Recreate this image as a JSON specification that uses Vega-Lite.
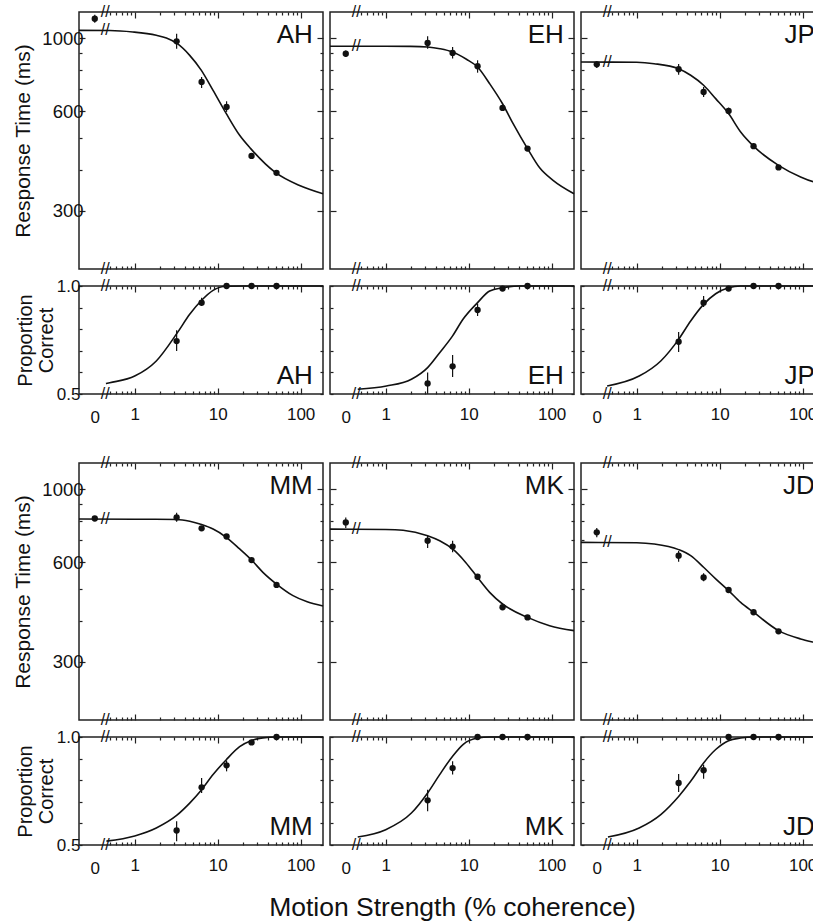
{
"$schema":"https://vega.github.io/schema/vega-lite/v6.json",
"padding":{"left":12,"top":3,"right":0,"bottom":0},
"background":"white",
"datasets":{"d":[
{"s":"AH","m":"r","k":"f","c":0.213,"v":1056},{"s":"AH","m":"r","k":"f","c":0.5,"v":1055},{"s":"AH","m":"r","k":"f","c":0.95,"v":1044},{"s":"AH","m":"r","k":"f","c":1.82,"v":1020},{"s":"AH","m":"r","k":"f","c":2.41,"v":1001},{"s":"AH","m":"r","k":"f","c":3.27,"v":962},{"s":"AH","m":"r","k":"f","c":4.6,"v":887},{"s":"AH","m":"r","k":"f","c":6.36,"v":799},{"s":"AH","m":"r","k":"f","c":8.8,"v":695},{"s":"AH","m":"r","k":"f","c":12.7,"v":591},{"s":"AH","m":"r","k":"f","c":18.4,"v":508},{"s":"AH","m":"r","k":"f","c":25,"v":463},{"s":"AH","m":"r","k":"f","c":49,"v":393},{"s":"AH","m":"r","k":"f","c":97,"v":358},{"s":"AH","m":"r","k":"f","c":186,"v":338},
{"s":"EH","m":"r","k":"f","c":0.213,"v":945},{"s":"EH","m":"r","k":"f","c":1,"v":945},{"s":"EH","m":"r","k":"f","c":2,"v":944},{"s":"EH","m":"r","k":"f","c":3.2,"v":940},{"s":"EH","m":"r","k":"f","c":4.5,"v":929},{"s":"EH","m":"r","k":"f","c":6.4,"v":908},{"s":"EH","m":"r","k":"f","c":9.4,"v":863},{"s":"EH","m":"r","k":"f","c":12.8,"v":818},{"s":"EH","m":"r","k":"f","c":17.9,"v":728},{"s":"EH","m":"r","k":"f","c":25.6,"v":633},{"s":"EH","m":"r","k":"f","c":34.2,"v":552},{"s":"EH","m":"r","k":"f","c":51.2,"v":463},{"s":"EH","m":"r","k":"f","c":71.7,"v":405},{"s":"EH","m":"r","k":"f","c":104,"v":371},{"s":"EH","m":"r","k":"f","c":186,"v":338},
{"s":"JP","m":"r","k":"f","c":0.213,"v":847},{"s":"JP","m":"r","k":"f","c":1,"v":845},{"s":"JP","m":"r","k":"f","c":1.62,"v":837},{"s":"JP","m":"r","k":"f","c":3.2,"v":808},{"s":"JP","m":"r","k":"f","c":4.47,"v":772},{"s":"JP","m":"r","k":"f","c":6.4,"v":720},{"s":"JP","m":"r","k":"f","c":8.95,"v":656},{"s":"JP","m":"r","k":"f","c":12.8,"v":591},{"s":"JP","m":"r","k":"f","c":17.9,"v":520},{"s":"JP","m":"r","k":"f","c":25.6,"v":471},{"s":"JP","m":"r","k":"f","c":51.2,"v":412},{"s":"JP","m":"r","k":"f","c":94.5,"v":380},{"s":"JP","m":"r","k":"f","c":136,"v":367},{"s":"JP","m":"r","k":"f","c":186,"v":360},
{"s":"MM","m":"r","k":"f","c":0.213,"v":812},{"s":"MM","m":"r","k":"f","c":1,"v":811},{"s":"MM","m":"r","k":"f","c":3.2,"v":809},{"s":"MM","m":"r","k":"f","c":4.6,"v":799},{"s":"MM","m":"r","k":"f","c":6.4,"v":781},{"s":"MM","m":"r","k":"f","c":8.8,"v":757},{"s":"MM","m":"r","k":"f","c":12.7,"v":715},{"s":"MM","m":"r","k":"f","c":18.4,"v":659},{"s":"MM","m":"r","k":"f","c":25.6,"v":610},{"s":"MM","m":"r","k":"f","c":35.1,"v":560},{"s":"MM","m":"r","k":"f","c":51.2,"v":516},{"s":"MM","m":"r","k":"f","c":80.9,"v":476},{"s":"MM","m":"r","k":"f","c":120,"v":456},{"s":"MM","m":"r","k":"f","c":186,"v":443},
{"s":"MK","m":"r","k":"f","c":0.213,"v":757},{"s":"MK","m":"r","k":"f","c":1,"v":755},{"s":"MK","m":"r","k":"f","c":1.62,"v":751},{"s":"MK","m":"r","k":"f","c":3.2,"v":723},{"s":"MK","m":"r","k":"f","c":4.47,"v":698},{"s":"MK","m":"r","k":"f","c":6.4,"v":659},{"s":"MK","m":"r","k":"f","c":9.2,"v":600},{"s":"MK","m":"r","k":"f","c":12.8,"v":540},{"s":"MK","m":"r","k":"f","c":17.9,"v":487},{"s":"MK","m":"r","k":"f","c":25.6,"v":449},{"s":"MK","m":"r","k":"f","c":51.2,"v":409},{"s":"MK","m":"r","k":"f","c":94.5,"v":386},{"s":"MK","m":"r","k":"f","c":186,"v":373},
{"s":"JD","m":"r","k":"f","c":0.213,"v":690},{"s":"JD","m":"r","k":"f","c":1,"v":688},{"s":"JD","m":"r","k":"f","c":1.62,"v":682},{"s":"JD","m":"r","k":"f","c":3.2,"v":656},{"s":"JD","m":"r","k":"f","c":4.47,"v":629},{"s":"JD","m":"r","k":"f","c":6.4,"v":580},{"s":"JD","m":"r","k":"f","c":8.95,"v":535},{"s":"JD","m":"r","k":"f","c":12.8,"v":493},{"s":"JD","m":"r","k":"f","c":17.9,"v":454},{"s":"JD","m":"r","k":"f","c":25.6,"v":424},{"s":"JD","m":"r","k":"f","c":51.2,"v":373},{"s":"JD","m":"r","k":"f","c":94.5,"v":352},{"s":"JD","m":"r","k":"f","c":136,"v":344},{"s":"JD","m":"r","k":"f","c":186,"v":338},
{"s":"AH","m":"p","k":"f","c":0.45,"v":0.548},{"s":"AH","m":"p","k":"f","c":0.5,"v":0.552},{"s":"AH","m":"p","k":"f","c":1,"v":0.583},{"s":"AH","m":"p","k":"f","c":1.82,"v":0.653},{"s":"AH","m":"p","k":"f","c":3.27,"v":0.784},{"s":"AH","m":"p","k":"f","c":4.6,"v":0.869},{"s":"AH","m":"p","k":"f","c":6.4,"v":0.934},{"s":"AH","m":"p","k":"f","c":8.8,"v":0.98},{"s":"AH","m":"p","k":"f","c":12.7,"v":0.999},{"s":"AH","m":"p","k":"f","c":20,"v":1},{"s":"AH","m":"p","k":"f","c":186,"v":1},
{"s":"EH","m":"p","k":"f","c":0.46,"v":0.522},{"s":"EH","m":"p","k":"f","c":1.02,"v":0.537},{"s":"EH","m":"p","k":"f","c":2.04,"v":0.568},{"s":"EH","m":"p","k":"f","c":3.2,"v":0.622},{"s":"EH","m":"p","k":"f","c":4.47,"v":0.691},{"s":"EH","m":"p","k":"f","c":6.4,"v":0.769},{"s":"EH","m":"p","k":"f","c":8.54,"v":0.846},{"s":"EH","m":"p","k":"f","c":12.8,"v":0.923},{"s":"EH","m":"p","k":"f","c":17.9,"v":0.977},{"s":"EH","m":"p","k":"f","c":25.6,"v":0.992},{"s":"EH","m":"p","k":"f","c":41,"v":1},{"s":"EH","m":"p","k":"f","c":186,"v":1},
{"s":"JP","m":"p","k":"f","c":0.44,"v":0.537},{"s":"JP","m":"p","k":"f","c":1.07,"v":0.583},{"s":"JP","m":"p","k":"f","c":1.95,"v":0.653},{"s":"JP","m":"p","k":"f","c":3.2,"v":0.753},{"s":"JP","m":"p","k":"f","c":4.47,"v":0.838},{"s":"JP","m":"p","k":"f","c":6.4,"v":0.915},{"s":"JP","m":"p","k":"f","c":8.95,"v":0.964},{"s":"JP","m":"p","k":"f","c":12.8,"v":0.992},{"s":"JP","m":"p","k":"f","c":17.9,"v":1},{"s":"JP","m":"p","k":"f","c":186,"v":1},
{"s":"MM","m":"p","k":"f","c":0.456,"v":0.518},{"s":"MM","m":"p","k":"f","c":1,"v":0.542},{"s":"MM","m":"p","k":"f","c":1.82,"v":0.579},{"s":"MM","m":"p","k":"f","c":3.2,"v":0.637},{"s":"MM","m":"p","k":"f","c":4.6,"v":0.694},{"s":"MM","m":"p","k":"f","c":6.4,"v":0.756},{"s":"MM","m":"p","k":"f","c":8.8,"v":0.826},{"s":"MM","m":"p","k":"f","c":12.7,"v":0.895},{"s":"MM","m":"p","k":"f","c":18.4,"v":0.955},{"s":"MM","m":"p","k":"f","c":25.6,"v":0.984},{"s":"MM","m":"p","k":"f","c":35,"v":0.996},{"s":"MM","m":"p","k":"f","c":51,"v":1},{"s":"MM","m":"p","k":"f","c":186,"v":1},
{"s":"MK","m":"p","k":"f","c":0.46,"v":0.537},{"s":"MK","m":"p","k":"f","c":1,"v":0.571},{"s":"MK","m":"p","k":"f","c":2.04,"v":0.648},{"s":"MK","m":"p","k":"f","c":3.2,"v":0.741},{"s":"MK","m":"p","k":"f","c":4.47,"v":0.826},{"s":"MK","m":"p","k":"f","c":6.4,"v":0.911},{"s":"MK","m":"p","k":"f","c":8.54,"v":0.965},{"s":"MK","m":"p","k":"f","c":12.8,"v":0.995},{"s":"MK","m":"p","k":"f","c":18,"v":1},{"s":"MK","m":"p","k":"f","c":186,"v":1},
{"s":"JD","m":"p","k":"f","c":0.45,"v":0.537},{"s":"JD","m":"p","k":"f","c":1.07,"v":0.579},{"s":"JD","m":"p","k":"f","c":1.95,"v":0.641},{"s":"JD","m":"p","k":"f","c":3.2,"v":0.725},{"s":"JD","m":"p","k":"f","c":4.47,"v":0.795},{"s":"JD","m":"p","k":"f","c":6.4,"v":0.88},{"s":"JD","m":"p","k":"f","c":8.95,"v":0.942},{"s":"JD","m":"p","k":"f","c":12.8,"v":0.983},{"s":"JD","m":"p","k":"f","c":17.9,"v":0.995},{"s":"JD","m":"p","k":"f","c":25,"v":1},{"s":"JD","m":"p","k":"f","c":186,"v":1},
{"s":"AH","m":"r","k":"o","c":0,"v":1145,"lo":1114,"hi":1178},{"s":"AH","m":"r","k":"o","c":3.2,"v":978,"lo":929,"hi":1031},{"s":"AH","m":"r","k":"o","c":6.4,"v":737,"lo":706,"hi":763},{"s":"AH","m":"r","k":"o","c":12.8,"v":619,"lo":598,"hi":644},{"s":"AH","m":"r","k":"o","c":25.6,"v":440,"lo":432,"hi":448},{"s":"AH","m":"r","k":"o","c":51.2,"v":391,"lo":385,"hi":397},
{"s":"EH","m":"r","k":"o","c":0,"v":897,"lo":877,"hi":918},{"s":"EH","m":"r","k":"o","c":3.2,"v":967,"lo":929,"hi":1013},{"s":"EH","m":"r","k":"o","c":6.4,"v":902,"lo":867,"hi":940},{"s":"EH","m":"r","k":"o","c":12.8,"v":822,"lo":786,"hi":857},{"s":"EH","m":"r","k":"o","c":25.6,"v":615,"lo":603,"hi":627},{"s":"EH","m":"r","k":"o","c":51.2,"v":463,"lo":455,"hi":471},
{"s":"JP","m":"r","k":"o","c":0,"v":833,"lo":812,"hi":851},{"s":"JP","m":"r","k":"o","c":3.2,"v":805,"lo":775,"hi":835},{"s":"JP","m":"r","k":"o","c":6.4,"v":687,"lo":664,"hi":711},{"s":"JP","m":"r","k":"o","c":12.8,"v":602,"lo":588,"hi":616},{"s":"JP","m":"r","k":"o","c":25.6,"v":471,"lo":463,"hi":479},{"s":"JP","m":"r","k":"o","c":51.2,"v":406,"lo":400,"hi":412},
{"s":"MM","m":"r","k":"o","c":0,"v":815,"lo":803,"hi":827},{"s":"MM","m":"r","k":"o","c":3.2,"v":821,"lo":797,"hi":848},{"s":"MM","m":"r","k":"o","c":6.4,"v":761,"lo":748,"hi":774},{"s":"MM","m":"r","k":"o","c":12.8,"v":719,"lo":708,"hi":730},{"s":"MM","m":"r","k":"o","c":25.6,"v":610,"lo":601,"hi":619},{"s":"MM","m":"r","k":"o","c":51.2,"v":513,"lo":506,"hi":520},
{"s":"MK","m":"r","k":"o","c":0,"v":793,"lo":763,"hi":821},{"s":"MK","m":"r","k":"o","c":3.2,"v":698,"lo":664,"hi":723},{"s":"MK","m":"r","k":"o","c":6.4,"v":670,"lo":644,"hi":698},{"s":"MK","m":"r","k":"o","c":12.8,"v":543,"lo":533,"hi":553},{"s":"MK","m":"r","k":"o","c":25.6,"v":439,"lo":433,"hi":445},{"s":"MK","m":"r","k":"o","c":51.2,"v":409,"lo":403,"hi":415},
{"s":"JD","m":"r","k":"o","c":0,"v":740,"lo":715,"hi":763},{"s":"JD","m":"r","k":"o","c":3.2,"v":629,"lo":603,"hi":650},{"s":"JD","m":"r","k":"o","c":6.4,"v":540,"lo":526,"hi":556},{"s":"JD","m":"r","k":"o","c":12.8,"v":495,"lo":487,"hi":503},{"s":"JD","m":"r","k":"o","c":25.6,"v":424,"lo":418,"hi":430},{"s":"JD","m":"r","k":"o","c":51.2,"v":371,"lo":366,"hi":376},
{"s":"AH","m":"p","k":"o","c":3.2,"v":0.745,"lo":0.699,"hi":0.795},{"s":"AH","m":"p","k":"o","c":6.4,"v":0.923,"lo":0.907,"hi":0.946},{"s":"AH","m":"p","k":"o","c":12.8,"v":1},{"s":"AH","m":"p","k":"o","c":25.6,"v":1},{"s":"AH","m":"p","k":"o","c":51.2,"v":1},
{"s":"EH","m":"p","k":"o","c":3.2,"v":0.549,"lo":0.501,"hi":0.599},{"s":"EH","m":"p","k":"o","c":6.4,"v":0.628,"lo":0.579,"hi":0.681},{"s":"EH","m":"p","k":"o","c":12.8,"v":0.889,"lo":0.861,"hi":0.918},{"s":"EH","m":"p","k":"o","c":25.6,"v":0.988},{"s":"EH","m":"p","k":"o","c":51.2,"v":1},
{"s":"JP","m":"p","k":"o","c":3.2,"v":0.742,"lo":0.694,"hi":0.787},{"s":"JP","m":"p","k":"o","c":6.4,"v":0.923,"lo":0.903,"hi":0.954},{"s":"JP","m":"p","k":"o","c":12.8,"v":0.988},{"s":"JP","m":"p","k":"o","c":25.6,"v":1},{"s":"JP","m":"p","k":"o","c":51.2,"v":1},
{"s":"MM","m":"p","k":"o","c":3.2,"v":0.567,"lo":0.517,"hi":0.61},{"s":"MM","m":"p","k":"o","c":6.4,"v":0.767,"lo":0.741,"hi":0.81},{"s":"MM","m":"p","k":"o","c":12.8,"v":0.869,"lo":0.841,"hi":0.891},{"s":"MM","m":"p","k":"o","c":25.6,"v":0.975},{"s":"MM","m":"p","k":"o","c":51.2,"v":1},
{"s":"MK","m":"p","k":"o","c":3.2,"v":0.707,"lo":0.656,"hi":0.756},{"s":"MK","m":"p","k":"o","c":6.4,"v":0.856,"lo":0.826,"hi":0.888},{"s":"MK","m":"p","k":"o","c":12.8,"v":1},{"s":"MK","m":"p","k":"o","c":25.6,"v":1},{"s":"MK","m":"p","k":"o","c":51.2,"v":1},
{"s":"JD","m":"p","k":"o","c":3.2,"v":0.787,"lo":0.745,"hi":0.829},{"s":"JD","m":"p","k":"o","c":6.4,"v":0.846,"lo":0.807,"hi":0.872},{"s":"JD","m":"p","k":"o","c":12.8,"v":1},{"s":"JD","m":"p","k":"o","c":25.6,"v":1},{"s":"JD","m":"p","k":"o","c":51.2,"v":1}
]},
"data":{"name":"d"},
"transform":[{"calculate":"datum.c===0?0.33:datum.c","as":"x"}],
"title":{"text":"Motion Strength (% coherence)","orient":"bottom","anchor":"middle","dx":32,"offset":18,"fontSize":26.5,"fontWeight":"normal","font":"Liberation Sans","color":"#111"},
"spacing":28,
"vconcat":[
{"columns":3,"spacing":{"row":-2,"column":-1},"align":"each","concat":[
{"width":244,"height":257,"transform":[{"filter":"datum.s==='AH'&&datum.m==='r'"}],"layer":[
{"transform":[{"filter":"datum.k==='f'"}],"mark":{"type":"line","interpolate":"monotone","color":"#111","strokeWidth":1.6},"encoding":{"x":{"field":"x","type":"quantitative","scale":{"type":"log","domain":[0.213,186],"nice":false},"axis":{"orient":"bottom","values":[0.33,0.5,0.6,0.7,0.8,0.9,1,2,3,4,5,6,7,8,9,10,20,30,40,50,60,70,80,90,100],"labels":false,"title":null,"tickSize":{"condition":{"test":"datum.value===1||datum.value===10||datum.value===100","value":-6},"value":-3},"tickOpacity":{"condition":{"test":"datum.value<0.4","value":0},"value":1}}},"y":{"field":"v","type":"quantitative","scale":{"type":"log","domain":[200,1200],"nice":false},"axis":{"orient":"left","values":[300,400,500,600,700,800,900,1000],"tickSize":{"condition":{"test":"datum.value===300||datum.value===600||datum.value===1000","value":-6},"value":-3},"labelPadding":2,"labelFontSize":18.5,"labelExpr":"(datum.value===300||datum.value===600||datum.value===1000)?format(datum.value,'d'):''","title":"Response Time (ms)","titleFontSize":21,"titlePadding":8}}}},
{"transform":[{"filter":"datum.k==='o'&&isValid(datum.lo)"}],"mark":{"type":"rule","color":"#111","strokeWidth":1.2},"encoding":{"x":{"field":"x","type":"quantitative","axis":null},"y":{"field":"lo","type":"quantitative","axis":null},"y2":{"field":"hi"}}},
{"transform":[{"filter":"datum.k==='o'"}],"mark":{"type":"point","filled":true,"size":40,"color":"#111","opacity":1},"encoding":{"x":{"field":"x","type":"quantitative","axis":{"orient":"top","values":[0.33,0.5,0.6,0.7,0.8,0.9,1,2,3,4,5,6,7,8,9,10,20,30,40,50,60,70,80,90,100],"labels":false,"title":null,"tickSize":{"condition":{"test":"datum.value===1||datum.value===10||datum.value===100","value":-6},"value":-3},"tickOpacity":{"condition":{"test":"datum.value<0.4","value":0},"value":1}}},"y":{"field":"v","type":"quantitative","axis":{"orient":"right","values":[300,400,500,600,700,800,900,1000],"labels":false,"title":null,"tickSize":{"condition":{"test":"datum.value===300||datum.value===600||datum.value===1000","value":-6},"value":-3}}}}},
{"transform":[{"filter":"datum.k==='f'&&datum.c<0.3"}],"mark":{"type":"text","text":"//","fontSize":16},"encoding":{"x":{"datum":0.44,"axis":null},"y":{"field":"v","type":"quantitative","axis":null}}},
{"transform":[{"filter":"datum.k==='f'&&datum.c<0.3"}],"mark":{"type":"text","text":"//","fontSize":16},"encoding":{"x":{"datum":0.44,"axis":null},"y":{"datum":1200,"axis":null}}},
{"transform":[{"filter":"datum.k==='f'&&datum.c<0.3"}],"mark":{"type":"text","text":"//","fontSize":16},"encoding":{"x":{"datum":0.44,"axis":null},"y":{"datum":200,"axis":null}}},
{"transform":[{"filter":"datum.k==='f'&&datum.c<0.3"}],"mark":{"type":"text","text":"AH","fontSize":26,"align":"right","baseline":"alphabetic"},"encoding":{"x":{"datum":140,"axis":null},"y":{"datum":968,"axis":null}}}
],"resolve":{"axis":{"x":"independent","y":"independent"}}},
{"width":244,"height":257,"transform":[{"filter":"datum.s==='EH'&&datum.m==='r'"}],"layer":[
{"transform":[{"filter":"datum.k==='f'"}],"mark":{"type":"line","interpolate":"monotone","color":"#111","strokeWidth":1.6},"encoding":{"x":{"field":"x","type":"quantitative","scale":{"type":"log","domain":[0.213,186],"nice":false},"axis":{"orient":"bottom","values":[0.33,0.5,0.6,0.7,0.8,0.9,1,2,3,4,5,6,7,8,9,10,20,30,40,50,60,70,80,90,100],"labels":false,"title":null,"tickSize":{"condition":{"test":"datum.value===1||datum.value===10||datum.value===100","value":-6},"value":-3},"tickOpacity":{"condition":{"test":"datum.value<0.4","value":0},"value":1}}},"y":{"field":"v","type":"quantitative","scale":{"type":"log","domain":[200,1200],"nice":false},"axis":{"orient":"left","values":[300,400,500,600,700,800,900,1000],"tickSize":{"condition":{"test":"datum.value===300||datum.value===600||datum.value===1000","value":-6},"value":-3},"labels":false,"title":null}}}},
{"transform":[{"filter":"datum.k==='o'&&isValid(datum.lo)"}],"mark":{"type":"rule","color":"#111","strokeWidth":1.2},"encoding":{"x":{"field":"x","type":"quantitative","axis":null},"y":{"field":"lo","type":"quantitative","axis":null},"y2":{"field":"hi"}}},
{"transform":[{"filter":"datum.k==='o'"}],"mark":{"type":"point","filled":true,"size":40,"color":"#111","opacity":1},"encoding":{"x":{"field":"x","type":"quantitative","axis":{"orient":"top","values":[0.33,0.5,0.6,0.7,0.8,0.9,1,2,3,4,5,6,7,8,9,10,20,30,40,50,60,70,80,90,100],"labels":false,"title":null,"tickSize":{"condition":{"test":"datum.value===1||datum.value===10||datum.value===100","value":-6},"value":-3},"tickOpacity":{"condition":{"test":"datum.value<0.4","value":0},"value":1}}},"y":{"field":"v","type":"quantitative","axis":{"orient":"right","values":[300,400,500,600,700,800,900,1000],"labels":false,"title":null,"tickSize":{"condition":{"test":"datum.value===300||datum.value===600||datum.value===1000","value":-6},"value":-3}}}}},
{"transform":[{"filter":"datum.k==='f'&&datum.c<0.3"}],"mark":{"type":"text","text":"//","fontSize":16},"encoding":{"x":{"datum":0.44,"axis":null},"y":{"field":"v","type":"quantitative","axis":null}}},
{"transform":[{"filter":"datum.k==='f'&&datum.c<0.3"}],"mark":{"type":"text","text":"//","fontSize":16},"encoding":{"x":{"datum":0.44,"axis":null},"y":{"datum":1200,"axis":null}}},
{"transform":[{"filter":"datum.k==='f'&&datum.c<0.3"}],"mark":{"type":"text","text":"//","fontSize":16},"encoding":{"x":{"datum":0.44,"axis":null},"y":{"datum":200,"axis":null}}},
{"transform":[{"filter":"datum.k==='f'&&datum.c<0.3"}],"mark":{"type":"text","text":"EH","fontSize":26,"align":"right","baseline":"alphabetic"},"encoding":{"x":{"datum":140,"axis":null},"y":{"datum":968,"axis":null}}}
],"resolve":{"axis":{"x":"independent","y":"independent"}}},
{"width":244,"height":257,"transform":[{"filter":"datum.s==='JP'&&datum.m==='r'"}],"layer":[
{"transform":[{"filter":"datum.k==='f'"}],"mark":{"type":"line","interpolate":"monotone","color":"#111","strokeWidth":1.6},"encoding":{"x":{"field":"x","type":"quantitative","scale":{"type":"log","domain":[0.213,186],"nice":false},"axis":{"orient":"bottom","values":[0.33,0.5,0.6,0.7,0.8,0.9,1,2,3,4,5,6,7,8,9,10,20,30,40,50,60,70,80,90,100],"labels":false,"title":null,"tickSize":{"condition":{"test":"datum.value===1||datum.value===10||datum.value===100","value":-6},"value":-3},"tickOpacity":{"condition":{"test":"datum.value<0.4","value":0},"value":1}}},"y":{"field":"v","type":"quantitative","scale":{"type":"log","domain":[200,1200],"nice":false},"axis":{"orient":"left","values":[300,400,500,600,700,800,900,1000],"tickSize":{"condition":{"test":"datum.value===300||datum.value===600||datum.value===1000","value":-6},"value":-3},"labels":false,"title":null}}}},
{"transform":[{"filter":"datum.k==='o'&&isValid(datum.lo)"}],"mark":{"type":"rule","color":"#111","strokeWidth":1.2},"encoding":{"x":{"field":"x","type":"quantitative","axis":null},"y":{"field":"lo","type":"quantitative","axis":null},"y2":{"field":"hi"}}},
{"transform":[{"filter":"datum.k==='o'"}],"mark":{"type":"point","filled":true,"size":40,"color":"#111","opacity":1},"encoding":{"x":{"field":"x","type":"quantitative","axis":{"orient":"top","values":[0.33,0.5,0.6,0.7,0.8,0.9,1,2,3,4,5,6,7,8,9,10,20,30,40,50,60,70,80,90,100],"labels":false,"title":null,"tickSize":{"condition":{"test":"datum.value===1||datum.value===10||datum.value===100","value":-6},"value":-3},"tickOpacity":{"condition":{"test":"datum.value<0.4","value":0},"value":1}}},"y":{"field":"v","type":"quantitative","axis":{"orient":"right","values":[300,400,500,600,700,800,900,1000],"labels":false,"title":null,"tickSize":{"condition":{"test":"datum.value===300||datum.value===600||datum.value===1000","value":-6},"value":-3}}}}},
{"transform":[{"filter":"datum.k==='f'&&datum.c<0.3"}],"mark":{"type":"text","text":"//","fontSize":16},"encoding":{"x":{"datum":0.44,"axis":null},"y":{"field":"v","type":"quantitative","axis":null}}},
{"transform":[{"filter":"datum.k==='f'&&datum.c<0.3"}],"mark":{"type":"text","text":"//","fontSize":16},"encoding":{"x":{"datum":0.44,"axis":null},"y":{"datum":1200,"axis":null}}},
{"transform":[{"filter":"datum.k==='f'&&datum.c<0.3"}],"mark":{"type":"text","text":"//","fontSize":16},"encoding":{"x":{"datum":0.44,"axis":null},"y":{"datum":200,"axis":null}}},
{"transform":[{"filter":"datum.k==='f'&&datum.c<0.3"}],"mark":{"type":"text","text":"JP","fontSize":26,"align":"right","baseline":"alphabetic"},"encoding":{"x":{"datum":140,"axis":null},"y":{"datum":968,"axis":null}}}
],"resolve":{"axis":{"x":"independent","y":"independent"}}},
{"width":244,"height":108,"transform":[{"filter":"datum.s==='AH'&&datum.m==='p'"}],"layer":[
{"transform":[{"filter":"datum.k==='f'"}],"mark":{"type":"line","interpolate":"monotone","color":"#111","strokeWidth":1.6},"encoding":{"x":{"field":"x","type":"quantitative","scale":{"type":"log","domain":[0.213,186],"nice":false},"axis":{"orient":"bottom","values":[0.33,0.5,0.6,0.7,0.8,0.9,1,2,3,4,5,6,7,8,9,10,20,30,40,50,60,70,80,90,100],"title":null,"labelPadding":18,"labelExpr":"datum.value<0.4?'0':(datum.value===1||datum.value===10||datum.value===100)?format(datum.value,'d'):''","tickSize":{"condition":{"test":"datum.value===1||datum.value===10||datum.value===100","value":-6},"value":-3},"tickOpacity":{"condition":{"test":"datum.value<0.4","value":0},"value":1}}},"y":{"field":"v","type":"quantitative","scale":{"type":"linear","domain":[0.5,1],"nice":false,"zero":false},"axis":{"orient":"left","values":[0.5,0.6,0.7,0.8,0.9,1],"tickSize":-3,"labelPadding":2,"labelFontSize":17,"labelExpr":"(datum.value===0.5||datum.value===1)?format(datum.value,'.1f'):''","title":["Proportion","Correct"],"titleLineHeight":21,"titlePadding":0}}}},
{"transform":[{"filter":"datum.k==='o'&&isValid(datum.lo)"}],"mark":{"type":"rule","color":"#111","strokeWidth":1.2},"encoding":{"x":{"field":"x","type":"quantitative","axis":null},"y":{"field":"lo","type":"quantitative","axis":null},"y2":{"field":"hi"}}},
{"transform":[{"filter":"datum.k==='o'"}],"mark":{"type":"point","filled":true,"size":40,"color":"#111","opacity":1},"encoding":{"x":{"field":"x","type":"quantitative","axis":{"orient":"top","values":[0.33,0.5,0.6,0.7,0.8,0.9,1,2,3,4,5,6,7,8,9,10,20,30,40,50,60,70,80,90,100],"labels":false,"title":null,"tickSize":{"condition":{"test":"datum.value===1||datum.value===10||datum.value===100","value":-6},"value":-3},"tickOpacity":{"condition":{"test":"datum.value<0.4","value":0},"value":1}}},"y":{"field":"v","type":"quantitative","axis":{"orient":"right","values":[0.5,0.6,0.7,0.8,0.9,1],"labels":false,"title":null,"tickSize":-3}}}},
{"transform":[{"filter":"datum.k==='o'&&datum.c===51.2"}],"mark":{"type":"text","text":"//","fontSize":16},"encoding":{"x":{"datum":0.44,"axis":null},"y":{"datum":1,"axis":null}}},
{"transform":[{"filter":"datum.k==='o'&&datum.c===51.2"}],"mark":{"type":"text","text":"//","fontSize":16},"encoding":{"x":{"datum":0.44,"axis":null},"y":{"datum":0.5,"axis":null}}},
{"transform":[{"filter":"datum.k==='o'&&datum.c===51.2"}],"mark":{"type":"text","text":"AH","fontSize":26,"align":"right","baseline":"alphabetic"},"encoding":{"x":{"datum":140,"axis":null},"y":{"datum":0.546,"axis":null}}}
],"resolve":{"axis":{"x":"independent","y":"independent"}}},
{"width":244,"height":108,"transform":[{"filter":"datum.s==='EH'&&datum.m==='p'"}],"layer":[
{"transform":[{"filter":"datum.k==='f'"}],"mark":{"type":"line","interpolate":"monotone","color":"#111","strokeWidth":1.6},"encoding":{"x":{"field":"x","type":"quantitative","scale":{"type":"log","domain":[0.213,186],"nice":false},"axis":{"orient":"bottom","values":[0.33,0.5,0.6,0.7,0.8,0.9,1,2,3,4,5,6,7,8,9,10,20,30,40,50,60,70,80,90,100],"title":null,"labelPadding":18,"labelExpr":"datum.value<0.4?'0':(datum.value===1||datum.value===10||datum.value===100)?format(datum.value,'d'):''","tickSize":{"condition":{"test":"datum.value===1||datum.value===10||datum.value===100","value":-6},"value":-3},"tickOpacity":{"condition":{"test":"datum.value<0.4","value":0},"value":1}}},"y":{"field":"v","type":"quantitative","scale":{"type":"linear","domain":[0.5,1],"nice":false,"zero":false},"axis":{"orient":"left","values":[0.5,0.6,0.7,0.8,0.9,1],"tickSize":-3,"labels":false,"title":null}}}},
{"transform":[{"filter":"datum.k==='o'&&isValid(datum.lo)"}],"mark":{"type":"rule","color":"#111","strokeWidth":1.2},"encoding":{"x":{"field":"x","type":"quantitative","axis":null},"y":{"field":"lo","type":"quantitative","axis":null},"y2":{"field":"hi"}}},
{"transform":[{"filter":"datum.k==='o'"}],"mark":{"type":"point","filled":true,"size":40,"color":"#111","opacity":1},"encoding":{"x":{"field":"x","type":"quantitative","axis":{"orient":"top","values":[0.33,0.5,0.6,0.7,0.8,0.9,1,2,3,4,5,6,7,8,9,10,20,30,40,50,60,70,80,90,100],"labels":false,"title":null,"tickSize":{"condition":{"test":"datum.value===1||datum.value===10||datum.value===100","value":-6},"value":-3},"tickOpacity":{"condition":{"test":"datum.value<0.4","value":0},"value":1}}},"y":{"field":"v","type":"quantitative","axis":{"orient":"right","values":[0.5,0.6,0.7,0.8,0.9,1],"labels":false,"title":null,"tickSize":-3}}}},
{"transform":[{"filter":"datum.k==='o'&&datum.c===51.2"}],"mark":{"type":"text","text":"//","fontSize":16},"encoding":{"x":{"datum":0.44,"axis":null},"y":{"datum":1,"axis":null}}},
{"transform":[{"filter":"datum.k==='o'&&datum.c===51.2"}],"mark":{"type":"text","text":"//","fontSize":16},"encoding":{"x":{"datum":0.44,"axis":null},"y":{"datum":0.5,"axis":null}}},
{"transform":[{"filter":"datum.k==='o'&&datum.c===51.2"}],"mark":{"type":"text","text":"EH","fontSize":26,"align":"right","baseline":"alphabetic"},"encoding":{"x":{"datum":140,"axis":null},"y":{"datum":0.546,"axis":null}}}
],"resolve":{"axis":{"x":"independent","y":"independent"}}},
{"width":244,"height":108,"transform":[{"filter":"datum.s==='JP'&&datum.m==='p'"}],"layer":[
{"transform":[{"filter":"datum.k==='f'"}],"mark":{"type":"line","interpolate":"monotone","color":"#111","strokeWidth":1.6},"encoding":{"x":{"field":"x","type":"quantitative","scale":{"type":"log","domain":[0.213,186],"nice":false},"axis":{"orient":"bottom","values":[0.33,0.5,0.6,0.7,0.8,0.9,1,2,3,4,5,6,7,8,9,10,20,30,40,50,60,70,80,90,100],"title":null,"labelPadding":18,"labelExpr":"datum.value<0.4?'0':(datum.value===1||datum.value===10||datum.value===100)?format(datum.value,'d'):''","tickSize":{"condition":{"test":"datum.value===1||datum.value===10||datum.value===100","value":-6},"value":-3},"tickOpacity":{"condition":{"test":"datum.value<0.4","value":0},"value":1}}},"y":{"field":"v","type":"quantitative","scale":{"type":"linear","domain":[0.5,1],"nice":false,"zero":false},"axis":{"orient":"left","values":[0.5,0.6,0.7,0.8,0.9,1],"tickSize":-3,"labels":false,"title":null}}}},
{"transform":[{"filter":"datum.k==='o'&&isValid(datum.lo)"}],"mark":{"type":"rule","color":"#111","strokeWidth":1.2},"encoding":{"x":{"field":"x","type":"quantitative","axis":null},"y":{"field":"lo","type":"quantitative","axis":null},"y2":{"field":"hi"}}},
{"transform":[{"filter":"datum.k==='o'"}],"mark":{"type":"point","filled":true,"size":40,"color":"#111","opacity":1},"encoding":{"x":{"field":"x","type":"quantitative","axis":{"orient":"top","values":[0.33,0.5,0.6,0.7,0.8,0.9,1,2,3,4,5,6,7,8,9,10,20,30,40,50,60,70,80,90,100],"labels":false,"title":null,"tickSize":{"condition":{"test":"datum.value===1||datum.value===10||datum.value===100","value":-6},"value":-3},"tickOpacity":{"condition":{"test":"datum.value<0.4","value":0},"value":1}}},"y":{"field":"v","type":"quantitative","axis":{"orient":"right","values":[0.5,0.6,0.7,0.8,0.9,1],"labels":false,"title":null,"tickSize":-3}}}},
{"transform":[{"filter":"datum.k==='o'&&datum.c===51.2"}],"mark":{"type":"text","text":"//","fontSize":16},"encoding":{"x":{"datum":0.44,"axis":null},"y":{"datum":1,"axis":null}}},
{"transform":[{"filter":"datum.k==='o'&&datum.c===51.2"}],"mark":{"type":"text","text":"//","fontSize":16},"encoding":{"x":{"datum":0.44,"axis":null},"y":{"datum":0.5,"axis":null}}},
{"transform":[{"filter":"datum.k==='o'&&datum.c===51.2"}],"mark":{"type":"text","text":"JP","fontSize":26,"align":"right","baseline":"alphabetic"},"encoding":{"x":{"datum":140,"axis":null},"y":{"datum":0.546,"axis":null}}}
],"resolve":{"axis":{"x":"independent","y":"independent"}}}
]},
{"columns":3,"spacing":{"row":-2,"column":-1},"align":"each","concat":[
{"width":244,"height":257,"transform":[{"filter":"datum.s==='MM'&&datum.m==='r'"}],"layer":[
{"transform":[{"filter":"datum.k==='f'"}],"mark":{"type":"line","interpolate":"monotone","color":"#111","strokeWidth":1.6},"encoding":{"x":{"field":"x","type":"quantitative","scale":{"type":"log","domain":[0.213,186],"nice":false},"axis":{"orient":"bottom","values":[0.33,0.5,0.6,0.7,0.8,0.9,1,2,3,4,5,6,7,8,9,10,20,30,40,50,60,70,80,90,100],"labels":false,"title":null,"tickSize":{"condition":{"test":"datum.value===1||datum.value===10||datum.value===100","value":-6},"value":-3},"tickOpacity":{"condition":{"test":"datum.value<0.4","value":0},"value":1}}},"y":{"field":"v","type":"quantitative","scale":{"type":"log","domain":[200,1200],"nice":false},"axis":{"orient":"left","values":[300,400,500,600,700,800,900,1000],"tickSize":{"condition":{"test":"datum.value===300||datum.value===600||datum.value===1000","value":-6},"value":-3},"labelPadding":2,"labelFontSize":18.5,"labelExpr":"(datum.value===300||datum.value===600||datum.value===1000)?format(datum.value,'d'):''","title":"Response Time (ms)","titleFontSize":21,"titlePadding":8}}}},
{"transform":[{"filter":"datum.k==='o'&&isValid(datum.lo)"}],"mark":{"type":"rule","color":"#111","strokeWidth":1.2},"encoding":{"x":{"field":"x","type":"quantitative","axis":null},"y":{"field":"lo","type":"quantitative","axis":null},"y2":{"field":"hi"}}},
{"transform":[{"filter":"datum.k==='o'"}],"mark":{"type":"point","filled":true,"size":40,"color":"#111","opacity":1},"encoding":{"x":{"field":"x","type":"quantitative","axis":{"orient":"top","values":[0.33,0.5,0.6,0.7,0.8,0.9,1,2,3,4,5,6,7,8,9,10,20,30,40,50,60,70,80,90,100],"labels":false,"title":null,"tickSize":{"condition":{"test":"datum.value===1||datum.value===10||datum.value===100","value":-6},"value":-3},"tickOpacity":{"condition":{"test":"datum.value<0.4","value":0},"value":1}}},"y":{"field":"v","type":"quantitative","axis":{"orient":"right","values":[300,400,500,600,700,800,900,1000],"labels":false,"title":null,"tickSize":{"condition":{"test":"datum.value===300||datum.value===600||datum.value===1000","value":-6},"value":-3}}}}},
{"transform":[{"filter":"datum.k==='f'&&datum.c<0.3"}],"mark":{"type":"text","text":"//","fontSize":16},"encoding":{"x":{"datum":0.44,"axis":null},"y":{"field":"v","type":"quantitative","axis":null}}},
{"transform":[{"filter":"datum.k==='f'&&datum.c<0.3"}],"mark":{"type":"text","text":"//","fontSize":16},"encoding":{"x":{"datum":0.44,"axis":null},"y":{"datum":1200,"axis":null}}},
{"transform":[{"filter":"datum.k==='f'&&datum.c<0.3"}],"mark":{"type":"text","text":"//","fontSize":16},"encoding":{"x":{"datum":0.44,"axis":null},"y":{"datum":200,"axis":null}}},
{"transform":[{"filter":"datum.k==='f'&&datum.c<0.3"}],"mark":{"type":"text","text":"MM","fontSize":26,"align":"right","baseline":"alphabetic"},"encoding":{"x":{"datum":140,"axis":null},"y":{"datum":968,"axis":null}}}
],"resolve":{"axis":{"x":"independent","y":"independent"}}},
{"width":244,"height":257,"transform":[{"filter":"datum.s==='MK'&&datum.m==='r'"}],"layer":[
{"transform":[{"filter":"datum.k==='f'"}],"mark":{"type":"line","interpolate":"monotone","color":"#111","strokeWidth":1.6},"encoding":{"x":{"field":"x","type":"quantitative","scale":{"type":"log","domain":[0.213,186],"nice":false},"axis":{"orient":"bottom","values":[0.33,0.5,0.6,0.7,0.8,0.9,1,2,3,4,5,6,7,8,9,10,20,30,40,50,60,70,80,90,100],"labels":false,"title":null,"tickSize":{"condition":{"test":"datum.value===1||datum.value===10||datum.value===100","value":-6},"value":-3},"tickOpacity":{"condition":{"test":"datum.value<0.4","value":0},"value":1}}},"y":{"field":"v","type":"quantitative","scale":{"type":"log","domain":[200,1200],"nice":false},"axis":{"orient":"left","values":[300,400,500,600,700,800,900,1000],"tickSize":{"condition":{"test":"datum.value===300||datum.value===600||datum.value===1000","value":-6},"value":-3},"labels":false,"title":null}}}},
{"transform":[{"filter":"datum.k==='o'&&isValid(datum.lo)"}],"mark":{"type":"rule","color":"#111","strokeWidth":1.2},"encoding":{"x":{"field":"x","type":"quantitative","axis":null},"y":{"field":"lo","type":"quantitative","axis":null},"y2":{"field":"hi"}}},
{"transform":[{"filter":"datum.k==='o'"}],"mark":{"type":"point","filled":true,"size":40,"color":"#111","opacity":1},"encoding":{"x":{"field":"x","type":"quantitative","axis":{"orient":"top","values":[0.33,0.5,0.6,0.7,0.8,0.9,1,2,3,4,5,6,7,8,9,10,20,30,40,50,60,70,80,90,100],"labels":false,"title":null,"tickSize":{"condition":{"test":"datum.value===1||datum.value===10||datum.value===100","value":-6},"value":-3},"tickOpacity":{"condition":{"test":"datum.value<0.4","value":0},"value":1}}},"y":{"field":"v","type":"quantitative","axis":{"orient":"right","values":[300,400,500,600,700,800,900,1000],"labels":false,"title":null,"tickSize":{"condition":{"test":"datum.value===300||datum.value===600||datum.value===1000","value":-6},"value":-3}}}}},
{"transform":[{"filter":"datum.k==='f'&&datum.c<0.3"}],"mark":{"type":"text","text":"//","fontSize":16},"encoding":{"x":{"datum":0.44,"axis":null},"y":{"field":"v","type":"quantitative","axis":null}}},
{"transform":[{"filter":"datum.k==='f'&&datum.c<0.3"}],"mark":{"type":"text","text":"//","fontSize":16},"encoding":{"x":{"datum":0.44,"axis":null},"y":{"datum":1200,"axis":null}}},
{"transform":[{"filter":"datum.k==='f'&&datum.c<0.3"}],"mark":{"type":"text","text":"//","fontSize":16},"encoding":{"x":{"datum":0.44,"axis":null},"y":{"datum":200,"axis":null}}},
{"transform":[{"filter":"datum.k==='f'&&datum.c<0.3"}],"mark":{"type":"text","text":"MK","fontSize":26,"align":"right","baseline":"alphabetic"},"encoding":{"x":{"datum":140,"axis":null},"y":{"datum":968,"axis":null}}}
],"resolve":{"axis":{"x":"independent","y":"independent"}}},
{"width":244,"height":257,"transform":[{"filter":"datum.s==='JD'&&datum.m==='r'"}],"layer":[
{"transform":[{"filter":"datum.k==='f'"}],"mark":{"type":"line","interpolate":"monotone","color":"#111","strokeWidth":1.6},"encoding":{"x":{"field":"x","type":"quantitative","scale":{"type":"log","domain":[0.213,186],"nice":false},"axis":{"orient":"bottom","values":[0.33,0.5,0.6,0.7,0.8,0.9,1,2,3,4,5,6,7,8,9,10,20,30,40,50,60,70,80,90,100],"labels":false,"title":null,"tickSize":{"condition":{"test":"datum.value===1||datum.value===10||datum.value===100","value":-6},"value":-3},"tickOpacity":{"condition":{"test":"datum.value<0.4","value":0},"value":1}}},"y":{"field":"v","type":"quantitative","scale":{"type":"log","domain":[200,1200],"nice":false},"axis":{"orient":"left","values":[300,400,500,600,700,800,900,1000],"tickSize":{"condition":{"test":"datum.value===300||datum.value===600||datum.value===1000","value":-6},"value":-3},"labels":false,"title":null}}}},
{"transform":[{"filter":"datum.k==='o'&&isValid(datum.lo)"}],"mark":{"type":"rule","color":"#111","strokeWidth":1.2},"encoding":{"x":{"field":"x","type":"quantitative","axis":null},"y":{"field":"lo","type":"quantitative","axis":null},"y2":{"field":"hi"}}},
{"transform":[{"filter":"datum.k==='o'"}],"mark":{"type":"point","filled":true,"size":40,"color":"#111","opacity":1},"encoding":{"x":{"field":"x","type":"quantitative","axis":{"orient":"top","values":[0.33,0.5,0.6,0.7,0.8,0.9,1,2,3,4,5,6,7,8,9,10,20,30,40,50,60,70,80,90,100],"labels":false,"title":null,"tickSize":{"condition":{"test":"datum.value===1||datum.value===10||datum.value===100","value":-6},"value":-3},"tickOpacity":{"condition":{"test":"datum.value<0.4","value":0},"value":1}}},"y":{"field":"v","type":"quantitative","axis":{"orient":"right","values":[300,400,500,600,700,800,900,1000],"labels":false,"title":null,"tickSize":{"condition":{"test":"datum.value===300||datum.value===600||datum.value===1000","value":-6},"value":-3}}}}},
{"transform":[{"filter":"datum.k==='f'&&datum.c<0.3"}],"mark":{"type":"text","text":"//","fontSize":16},"encoding":{"x":{"datum":0.44,"axis":null},"y":{"field":"v","type":"quantitative","axis":null}}},
{"transform":[{"filter":"datum.k==='f'&&datum.c<0.3"}],"mark":{"type":"text","text":"//","fontSize":16},"encoding":{"x":{"datum":0.44,"axis":null},"y":{"datum":1200,"axis":null}}},
{"transform":[{"filter":"datum.k==='f'&&datum.c<0.3"}],"mark":{"type":"text","text":"//","fontSize":16},"encoding":{"x":{"datum":0.44,"axis":null},"y":{"datum":200,"axis":null}}},
{"transform":[{"filter":"datum.k==='f'&&datum.c<0.3"}],"mark":{"type":"text","text":"JD","fontSize":26,"align":"right","baseline":"alphabetic"},"encoding":{"x":{"datum":140,"axis":null},"y":{"datum":968,"axis":null}}}
],"resolve":{"axis":{"x":"independent","y":"independent"}}},
{"width":244,"height":108,"transform":[{"filter":"datum.s==='MM'&&datum.m==='p'"}],"layer":[
{"transform":[{"filter":"datum.k==='f'"}],"mark":{"type":"line","interpolate":"monotone","color":"#111","strokeWidth":1.6},"encoding":{"x":{"field":"x","type":"quantitative","scale":{"type":"log","domain":[0.213,186],"nice":false},"axis":{"orient":"bottom","values":[0.33,0.5,0.6,0.7,0.8,0.9,1,2,3,4,5,6,7,8,9,10,20,30,40,50,60,70,80,90,100],"title":null,"labelPadding":18,"labelExpr":"datum.value<0.4?'0':(datum.value===1||datum.value===10||datum.value===100)?format(datum.value,'d'):''","tickSize":{"condition":{"test":"datum.value===1||datum.value===10||datum.value===100","value":-6},"value":-3},"tickOpacity":{"condition":{"test":"datum.value<0.4","value":0},"value":1}}},"y":{"field":"v","type":"quantitative","scale":{"type":"linear","domain":[0.5,1],"nice":false,"zero":false},"axis":{"orient":"left","values":[0.5,0.6,0.7,0.8,0.9,1],"tickSize":-3,"labelPadding":2,"labelFontSize":17,"labelExpr":"(datum.value===0.5||datum.value===1)?format(datum.value,'.1f'):''","title":["Proportion","Correct"],"titleLineHeight":21,"titlePadding":0}}}},
{"transform":[{"filter":"datum.k==='o'&&isValid(datum.lo)"}],"mark":{"type":"rule","color":"#111","strokeWidth":1.2},"encoding":{"x":{"field":"x","type":"quantitative","axis":null},"y":{"field":"lo","type":"quantitative","axis":null},"y2":{"field":"hi"}}},
{"transform":[{"filter":"datum.k==='o'"}],"mark":{"type":"point","filled":true,"size":40,"color":"#111","opacity":1},"encoding":{"x":{"field":"x","type":"quantitative","axis":{"orient":"top","values":[0.33,0.5,0.6,0.7,0.8,0.9,1,2,3,4,5,6,7,8,9,10,20,30,40,50,60,70,80,90,100],"labels":false,"title":null,"tickSize":{"condition":{"test":"datum.value===1||datum.value===10||datum.value===100","value":-6},"value":-3},"tickOpacity":{"condition":{"test":"datum.value<0.4","value":0},"value":1}}},"y":{"field":"v","type":"quantitative","axis":{"orient":"right","values":[0.5,0.6,0.7,0.8,0.9,1],"labels":false,"title":null,"tickSize":-3}}}},
{"transform":[{"filter":"datum.k==='o'&&datum.c===51.2"}],"mark":{"type":"text","text":"//","fontSize":16},"encoding":{"x":{"datum":0.44,"axis":null},"y":{"datum":1,"axis":null}}},
{"transform":[{"filter":"datum.k==='o'&&datum.c===51.2"}],"mark":{"type":"text","text":"//","fontSize":16},"encoding":{"x":{"datum":0.44,"axis":null},"y":{"datum":0.5,"axis":null}}},
{"transform":[{"filter":"datum.k==='o'&&datum.c===51.2"}],"mark":{"type":"text","text":"MM","fontSize":26,"align":"right","baseline":"alphabetic"},"encoding":{"x":{"datum":140,"axis":null},"y":{"datum":0.546,"axis":null}}}
],"resolve":{"axis":{"x":"independent","y":"independent"}}},
{"width":244,"height":108,"transform":[{"filter":"datum.s==='MK'&&datum.m==='p'"}],"layer":[
{"transform":[{"filter":"datum.k==='f'"}],"mark":{"type":"line","interpolate":"monotone","color":"#111","strokeWidth":1.6},"encoding":{"x":{"field":"x","type":"quantitative","scale":{"type":"log","domain":[0.213,186],"nice":false},"axis":{"orient":"bottom","values":[0.33,0.5,0.6,0.7,0.8,0.9,1,2,3,4,5,6,7,8,9,10,20,30,40,50,60,70,80,90,100],"title":null,"labelPadding":18,"labelExpr":"datum.value<0.4?'0':(datum.value===1||datum.value===10||datum.value===100)?format(datum.value,'d'):''","tickSize":{"condition":{"test":"datum.value===1||datum.value===10||datum.value===100","value":-6},"value":-3},"tickOpacity":{"condition":{"test":"datum.value<0.4","value":0},"value":1}}},"y":{"field":"v","type":"quantitative","scale":{"type":"linear","domain":[0.5,1],"nice":false,"zero":false},"axis":{"orient":"left","values":[0.5,0.6,0.7,0.8,0.9,1],"tickSize":-3,"labels":false,"title":null}}}},
{"transform":[{"filter":"datum.k==='o'&&isValid(datum.lo)"}],"mark":{"type":"rule","color":"#111","strokeWidth":1.2},"encoding":{"x":{"field":"x","type":"quantitative","axis":null},"y":{"field":"lo","type":"quantitative","axis":null},"y2":{"field":"hi"}}},
{"transform":[{"filter":"datum.k==='o'"}],"mark":{"type":"point","filled":true,"size":40,"color":"#111","opacity":1},"encoding":{"x":{"field":"x","type":"quantitative","axis":{"orient":"top","values":[0.33,0.5,0.6,0.7,0.8,0.9,1,2,3,4,5,6,7,8,9,10,20,30,40,50,60,70,80,90,100],"labels":false,"title":null,"tickSize":{"condition":{"test":"datum.value===1||datum.value===10||datum.value===100","value":-6},"value":-3},"tickOpacity":{"condition":{"test":"datum.value<0.4","value":0},"value":1}}},"y":{"field":"v","type":"quantitative","axis":{"orient":"right","values":[0.5,0.6,0.7,0.8,0.9,1],"labels":false,"title":null,"tickSize":-3}}}},
{"transform":[{"filter":"datum.k==='o'&&datum.c===51.2"}],"mark":{"type":"text","text":"//","fontSize":16},"encoding":{"x":{"datum":0.44,"axis":null},"y":{"datum":1,"axis":null}}},
{"transform":[{"filter":"datum.k==='o'&&datum.c===51.2"}],"mark":{"type":"text","text":"//","fontSize":16},"encoding":{"x":{"datum":0.44,"axis":null},"y":{"datum":0.5,"axis":null}}},
{"transform":[{"filter":"datum.k==='o'&&datum.c===51.2"}],"mark":{"type":"text","text":"MK","fontSize":26,"align":"right","baseline":"alphabetic"},"encoding":{"x":{"datum":140,"axis":null},"y":{"datum":0.546,"axis":null}}}
],"resolve":{"axis":{"x":"independent","y":"independent"}}},
{"width":244,"height":108,"transform":[{"filter":"datum.s==='JD'&&datum.m==='p'"}],"layer":[
{"transform":[{"filter":"datum.k==='f'"}],"mark":{"type":"line","interpolate":"monotone","color":"#111","strokeWidth":1.6},"encoding":{"x":{"field":"x","type":"quantitative","scale":{"type":"log","domain":[0.213,186],"nice":false},"axis":{"orient":"bottom","values":[0.33,0.5,0.6,0.7,0.8,0.9,1,2,3,4,5,6,7,8,9,10,20,30,40,50,60,70,80,90,100],"title":null,"labelPadding":18,"labelExpr":"datum.value<0.4?'0':(datum.value===1||datum.value===10||datum.value===100)?format(datum.value,'d'):''","tickSize":{"condition":{"test":"datum.value===1||datum.value===10||datum.value===100","value":-6},"value":-3},"tickOpacity":{"condition":{"test":"datum.value<0.4","value":0},"value":1}}},"y":{"field":"v","type":"quantitative","scale":{"type":"linear","domain":[0.5,1],"nice":false,"zero":false},"axis":{"orient":"left","values":[0.5,0.6,0.7,0.8,0.9,1],"tickSize":-3,"labels":false,"title":null}}}},
{"transform":[{"filter":"datum.k==='o'&&isValid(datum.lo)"}],"mark":{"type":"rule","color":"#111","strokeWidth":1.2},"encoding":{"x":{"field":"x","type":"quantitative","axis":null},"y":{"field":"lo","type":"quantitative","axis":null},"y2":{"field":"hi"}}},
{"transform":[{"filter":"datum.k==='o'"}],"mark":{"type":"point","filled":true,"size":40,"color":"#111","opacity":1},"encoding":{"x":{"field":"x","type":"quantitative","axis":{"orient":"top","values":[0.33,0.5,0.6,0.7,0.8,0.9,1,2,3,4,5,6,7,8,9,10,20,30,40,50,60,70,80,90,100],"labels":false,"title":null,"tickSize":{"condition":{"test":"datum.value===1||datum.value===10||datum.value===100","value":-6},"value":-3},"tickOpacity":{"condition":{"test":"datum.value<0.4","value":0},"value":1}}},"y":{"field":"v","type":"quantitative","axis":{"orient":"right","values":[0.5,0.6,0.7,0.8,0.9,1],"labels":false,"title":null,"tickSize":-3}}}},
{"transform":[{"filter":"datum.k==='o'&&datum.c===51.2"}],"mark":{"type":"text","text":"//","fontSize":16},"encoding":{"x":{"datum":0.44,"axis":null},"y":{"datum":1,"axis":null}}},
{"transform":[{"filter":"datum.k==='o'&&datum.c===51.2"}],"mark":{"type":"text","text":"//","fontSize":16},"encoding":{"x":{"datum":0.44,"axis":null},"y":{"datum":0.5,"axis":null}}},
{"transform":[{"filter":"datum.k==='o'&&datum.c===51.2"}],"mark":{"type":"text","text":"JD","fontSize":26,"align":"right","baseline":"alphabetic"},"encoding":{"x":{"datum":140,"axis":null},"y":{"datum":0.546,"axis":null}}}
],"resolve":{"axis":{"x":"independent","y":"independent"}}}
]}
],
"config":{
"font":"Liberation Sans",
"view":{"stroke":"#222","strokeWidth":1.5},
"axis":{"domain":false,"grid":false,"tickColor":"#222","tickWidth":1.2,"labelColor":"#111","labelFont":"Liberation Sans","titleFont":"Liberation Sans","titleFontWeight":"normal","titleFontSize":20,"titleColor":"#111","labelOverlap":false,"labelFlush":false,"titleLineHeight":20},
"axisX":{"labelFontSize":17},
"axisY":{"labelFontSize":17},
"text":{"font":"Liberation Sans","color":"#111"}
}
}
